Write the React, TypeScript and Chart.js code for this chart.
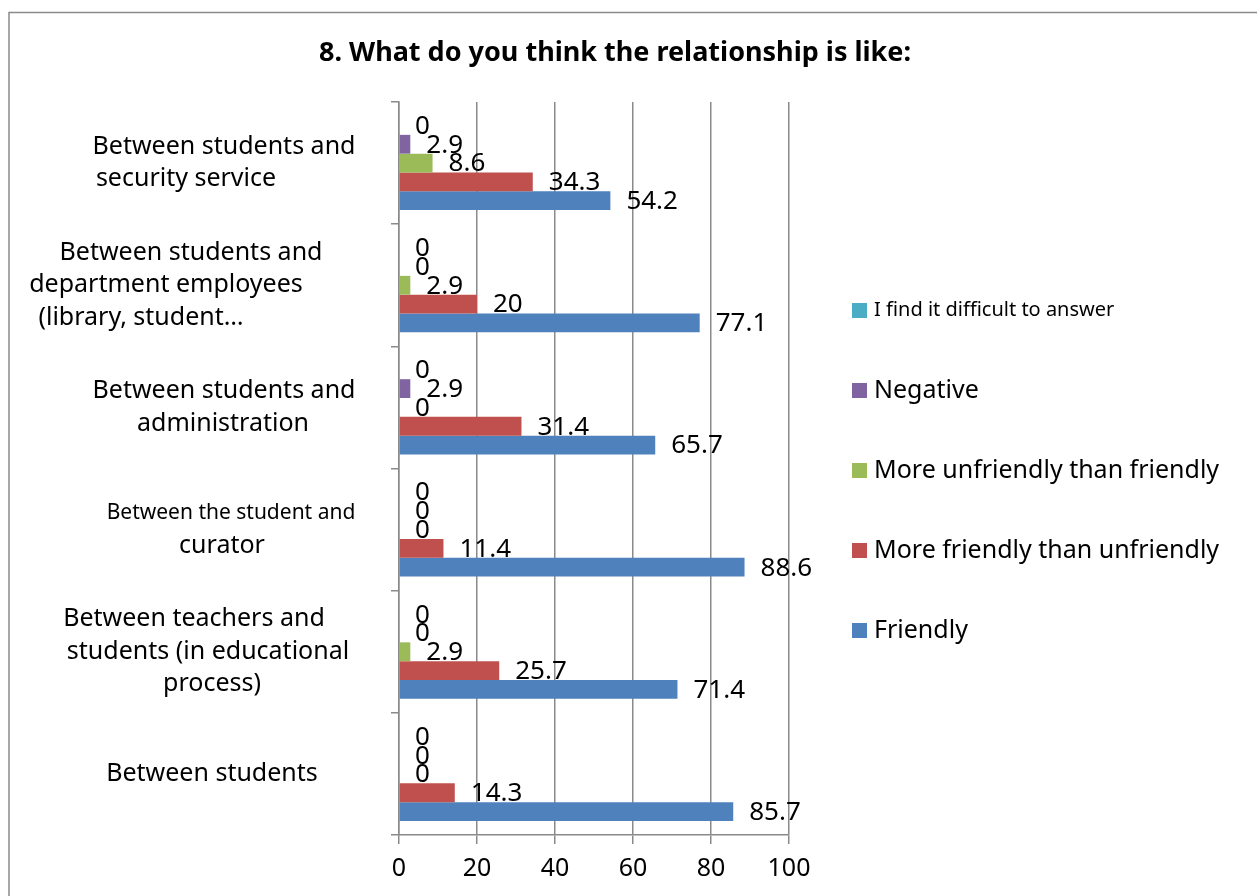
import React, { useEffect, useRef } from "react";
import { Chart, registerables } from "chart.js";

Chart.register(...registerables);

// ---------- data ----------
const TITLE = "8. What do you think the relationship is like:";

const CATEGORY_LINES: string[][] = [
  ["Between students and", "security service"],
  ["Between students and", "department employees", "(library, student…"],
  ["Between students and", "administration"],
  ["Between the student and", "curator"],
  ["Between teachers and", "students (in educational", "process)"],
  ["Between students"],
];

const SERIES_NAMES = [
  "I find it difficult to answer",
  "Negative",
  "More unfriendly than friendly",
  "More friendly than unfriendly",
  "Friendly",
];

const DIFFICULT = [0, 0, 0, 0, 0, 0];
const NEGATIVE = [2.9, 0, 2.9, 0, 0, 0];
const MORE_UNFRIENDLY = [8.6, 2.9, 0, 0, 2.9, 0];
const MORE_FRIENDLY = [34.3, 20, 31.4, 11.4, 25.7, 14.3];
const FRIENDLY = [54.2, 77.1, 65.7, 88.6, 71.4, 85.7];

const X_TICKS = [0, 20, 40, 60, 80, 100];

// ---------- styles ----------
const COLORS = ["#4BACC6", "#8064A2", "#9BBB59", "#C0504D", "#4F81BD"];
const FONT = "'Noto Sans', sans-serif";
const GRID = "#8a8a8a";

// per-line horizontal centres / font sizes for the wrapped category labels (layout only)
const LABEL_LAYOUT: { x: number; size: number }[][] = [
  [{ x: 224, size: 25 }, { x: 186, size: 25 }],
  [{ x: 191, size: 25 }, { x: 166, size: 25 }, { x: 141, size: 25 }],
  [{ x: 224, size: 25 }, { x: 223, size: 25 }],
  [{ x: 231, size: 21 }, { x: 222, size: 25 }],
  [{ x: 194, size: 25 }, { x: 208, size: 25 }, { x: 212, size: 25 }],
  [{ x: 212, size: 25 }],
];
const LABEL_LINE_HEIGHT = 32.5;

const decorPlugin = {
  id: "excelDecor",
  beforeDraw(chart: any) {
    const ctx = chart.ctx;
    ctx.save();
    ctx.fillStyle = "#ffffff";
    ctx.fillRect(0, 0, chart.width, chart.height);
    ctx.strokeStyle = GRID;
    ctx.lineWidth = 1.5;
    ctx.beginPath();
    ctx.moveTo(9, chart.height + 5);
    ctx.lineTo(9, 12.5);
    ctx.lineTo(chart.width + 5, 12.5);
    ctx.stroke();
    ctx.restore();
  },
  afterDatasetsDraw(chart: any) {
    const ctx = chart.ctx;
    ctx.save();
    ctx.font = `26px ${FONT}`;
    ctx.fillStyle = "#000";
    ctx.textAlign = "left";
    ctx.textBaseline = "middle";
    chart.data.datasets.forEach((ds: any, di: number) => {
      const meta = chart.getDatasetMeta(di);
      meta.data.forEach((el: any, i: number) => {
        ctx.fillText(String(ds.data[i]), el.x + 16, el.y + 1);
      });
    });
    ctx.restore();
  },
  afterDraw(chart: any) {
    const ctx = chart.ctx;
    const area = chart.chartArea;
    ctx.save();
    // title
    ctx.fillStyle = "#000";
    ctx.font = `bold 27px ${FONT}`;
    ctx.textAlign = "center";
    ctx.textBaseline = "middle";
    ctx.fillText(TITLE, 615, 53);

    // category labels
    const yScale = chart.scales.y;
    CATEGORY_LINES.forEach((lines, i) => {
      const cy = yScale.getPixelForValue(i);
      lines.forEach((line, j) => {
        const lay = LABEL_LAYOUT[i][j];
        ctx.font = `${lay.size}px ${FONT}`;
        ctx.fillText(line, lay.x, cy + (j - (lines.length - 1) / 2) * LABEL_LINE_HEIGHT);
      });
    });

    // legend
    const midY = (area.top + area.bottom) / 2 + 2;
    const n = chart.data.datasets.length;
    const boxX = area.right + 63;
    ctx.textAlign = "left";
    chart.data.datasets.forEach((ds: any, i: number) => {
      const cy = midY + (i - (n - 1) / 2) * 80;
      ctx.fillStyle = ds.backgroundColor;
      ctx.fillRect(boxX, cy - 7.5, 15, 15);
      ctx.fillStyle = "#000";
      ctx.font = `${i === 0 ? 20 : 25}px ${FONT}`;
      ctx.fillText(ds.label, boxX + 22, cy);
    });
    ctx.restore();
  },
};

export default function App() {
  const canvasRef = useRef<HTMLCanvasElement | null>(null);

  useEffect(() => {
    if (!canvasRef.current) return;
    Chart.defaults.font.family = FONT;
    Chart.defaults.color = "#000";
    const series = [DIFFICULT, NEGATIVE, MORE_UNFRIENDLY, MORE_FRIENDLY, FRIENDLY];
    const chart = new Chart(canvasRef.current, {
      type: "bar",
      data: {
        labels: CATEGORY_LINES.map((l) => l.join(" ")),
        datasets: series.map((data, i) => ({
          label: SERIES_NAMES[i],
          data,
          backgroundColor: COLORS[i],
          borderWidth: 0,
          categoryPercentage: 0.77,
          barPercentage: 1,
        })),
      },
      options: {
        indexAxis: "y",
        responsive: false,
        animation: false,
        devicePixelRatio: 1,
        layout: { padding: { top: 102, left: 391, right: 468, bottom: 2 } },
        plugins: {
          legend: { display: false },
          title: { display: false },
          tooltip: { enabled: false },
        },
        scales: {
          x: {
            min: 0,
            max: 100,
            afterBuildTicks: (scale: any) => {
              scale.ticks = X_TICKS.map((v) => ({ value: v }));
            },
            ticks: { font: { size: 25, family: FONT }, color: "#000", padding: 10 },
            grid: { color: GRID, lineWidth: 1.5, tickLength: 9, drawTicks: true },
            border: { color: GRID, width: 1.5 },
          },
          y: {
            ticks: { display: false },
            grid: { drawOnChartArea: false, drawTicks: true, tickLength: 8, color: GRID, lineWidth: 1.5 },
            border: { color: GRID, width: 1.5 },
          },
        },
      },
      plugins: [decorPlugin],
    } as any);
    return () => chart.destroy();
  }, []);

  return (
    <div style={{ position: "absolute", left: 0, top: 0, width: 1257, height: 896, overflow: "hidden", background: "#fff" }}>
      <canvas ref={canvasRef} width={1257} height={896} style={{ display: "block" }} />
    </div>
  );
}
